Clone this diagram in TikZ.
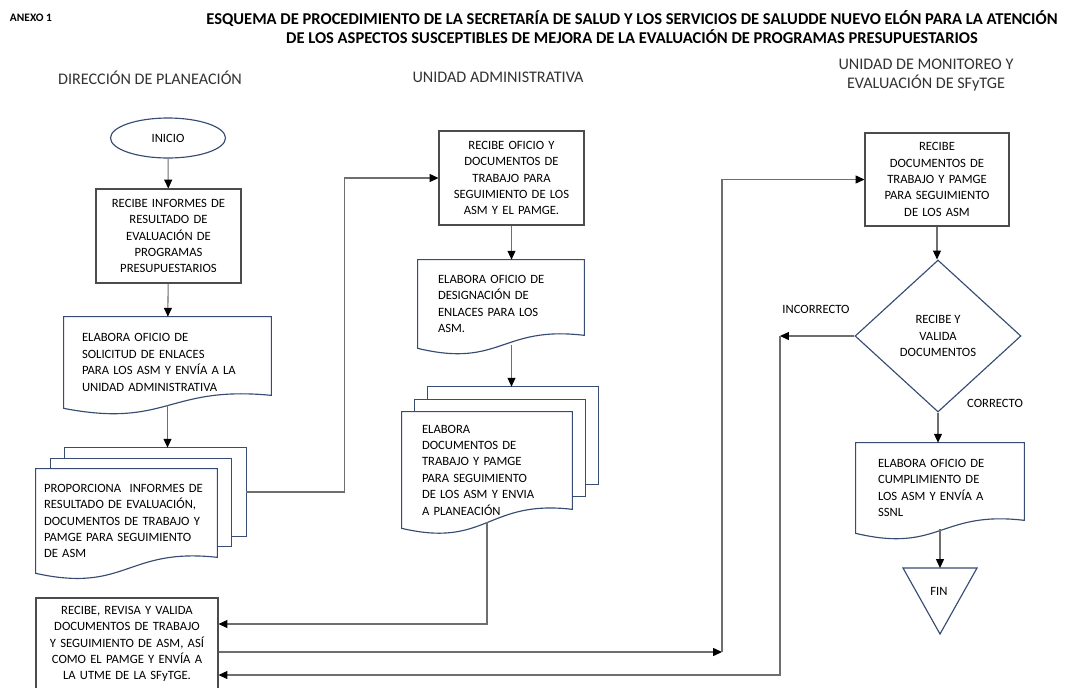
\documentclass[tikz,border=0pt]{standalone}
\usepackage{fontspec}
\setmainfont{Carlito}
\usetikzlibrary{shapes.geometric,arrows.meta,calc}

\pgfdeclarelayer{background}
\pgfsetlayers{background,main}

\definecolor{docblue}{RGB}{55,75,115}
\definecolor{linegray}{RGB}{110,110,110}

\tikzset{
  every node/.style={font=\fontsize{7.2}{9.35}\selectfont},
  procbox/.style={draw=black!70, line width=0.6pt, align=center, inner sep=2pt},
  docbox/.style={align=left, inner sep=2pt},
  docsheet/.style={draw=docblue, line width=0.65pt, fill=white},
  startbox/.style={ellipse, draw=docblue, line width=0.65pt},
  decision/.style={diamond, draw=docblue, line width=0.65pt, align=center, inner sep=0pt},
  header/.style={font=\fontsize{9.2}{11.3}\selectfont, text=black!80, align=center},
  conn/.style={draw=linegray, line width=0.6pt, -{Triangle[length=5pt,width=4.5pt,color=black]}},
  plainline/.style={draw=linegray, line width=0.6pt}
}

% outline of a document with a wavy bottom
\newcommand{\docpath}[2]{(#1.north west) -- (#1.north east) -- ($(#1.south east)+(0,-#2)$)
  .. controls ($(#1.south)+(0,-#2-10)$) and ($(#1.south)+(0,20)$) .. (#1.south west) -- cycle}

% single document
\newcommand{\docshape}[2]{%
  \begin{pgfonlayer}{background}
    \draw[docsheet] \docpath{#1}{#2};
  \end{pgfonlayer}}

% stack of three documents: name, dx, up, drop
\newcommand{\docstack}[4]{%
  \begin{pgfonlayer}{background}
    \draw[docsheet] ($(#1.north west)+(2*#2,-2*#3)$) rectangle ($(#1.south east)+(2*#2,-2*#3-#4)$);
    \draw[docsheet] ($(#1.north west)+(#2,-#3)$) rectangle ($(#1.south east)+(#2,-#3-#4)$);
    \draw[docsheet] \docpath{#1}{#4};
  \end{pgfonlayer}
  \coordinate (#1-top) at ($(#1.north)+(2*#2,-2*#3)$);
  \coordinate (#1-side) at ($(#1.east)+(2*#2,-2*#3-#4/2)$);}

\begin{document}
\begin{tikzpicture}[x=0.02cm, y=-0.02cm]

    \begin{pgfonlayer}{background}
        \fill[white] (0,0) rectangle (1065,687);
    \end{pgfonlayer}
    \useasboundingbox (0,0) rectangle (1065,687);

    % Titles
    \node[font=\fontsize{6.5}{8}\selectfont\bfseries] (anexo) at (31,18) {ANEXO 1};
    \node[font=\fontsize{9.4}{11.2}\selectfont\bfseries, align=center] (titulo) at (632,27)
        {ESQUEMA DE PROCEDIMIENTO DE LA SECRETARÍA DE SALUD Y LOS SERVICIOS DE SALUDDE NUEVO ELÓN PARA LA ATENCIÓN\\
         DE LOS ASPECTOS SUSCEPTIBLES DE MEJORA DE LA EVALUACIÓN DE PROGRAMAS PRESUPUESTARIOS};
    \node[header] (planeacion) at (150,78) {DIRECCIÓN DE PLANEACIÓN};
    \node[header] (unidad) at (498,77) {UNIDAD ADMINISTRATIVA};
    \node[header] (monitoreo) at (926,75) {UNIDAD DE MONITOREO Y\\ EVALUACIÓN DE SFyTGE};

    % Direccion de planeacion
    \node[startbox, minimum width=2.30cm, minimum height=0.80cm] (inicio) at (168,138) {INICIO};
    \node[procbox, minimum width=2.90cm, minimum height=1.88cm, text width=2.70cm] (recibe) at (168.5,236)
        {RECIBE INFORMES DE\\ RESULTADO DE\\ EVALUACIÓN DE\\ PROGRAMAS\\ PRESUPUESTARIOS};
    \node[docbox, minimum width=4.14cm, minimum height=1.82cm, text width=3.42cm] (solicitud) at (167.5,362.5)
        {ELABORA OFICIO DE\\ SOLICITUD DE ENLACES\\ PARA LOS ASM Y ENVÍA A LA\\ UNIDAD ADMINISTRATIVA};
    \docshape{solicitud}{13}
    \node[docbox, minimum width=3.62cm, minimum height=2.08cm, text width=3.30cm] (proporciona) at (126.5,521)
        {PROPORCIONA \ INFORMES DE\\ RESULTADO DE EVALUACIÓN,\\ DOCUMENTOS DE TRABAJO Y\\ PAMGE PARA SEGUIMIENTO\\ DE ASM};
    \docstack{proporciona}{14.5}{10.5}{16}
    \node[procbox, minimum width=3.64cm, minimum height=1.84cm, text width=3.50cm] (revisa) at (127,644)
        {RECIBE, REVISA Y VALIDA\\ DOCUMENTOS DE TRABAJO\\ Y SEGUIMIENTO DE ASM, ASÍ\\ COMO EL PAMGE Y ENVÍA A\\ LA UTME DE LA SFyTGE.};
    \coordinate (revisa-in1) at ($(revisa.east)+(0,-20)$);
    \coordinate (revisa-out) at ($(revisa.east)+(0,8)$);
    \coordinate (revisa-in2) at ($(revisa.east)+(0,31)$);

    % Unidad administrativa
    \node[procbox, minimum width=2.90cm, minimum height=1.88cm, text width=2.70cm] (oficio) at (511.5,178)
        {RECIBE OFICIO Y\\ DOCUMENTOS DE\\ TRABAJO PARA\\ SEGUIMIENTO DE LOS\\ ASM Y EL PAMGE.};
    \node[docbox, minimum width=3.32cm, minimum height=1.76cm, text width=2.52cm] (designacion) at (501,304)
        {ELABORA OFICIO DE\\ DESIGNACIÓN DE\\ ENLACES PARA LOS\\ ASM.};
    \docshape{designacion}{13}
    \node[docbox, minimum width=3.40cm, minimum height=2.32cm, text width=2.60cm] (elabora) at (487,470)
        {ELABORA\\ DOCUMENTOS DE\\ TRABAJO Y PAMGE\\ PARA SEGUIMIENTO\\ DE LOS ASM Y ENVIA\\ A PLANEACIÓN};
    \docstack{elabora}{13}{12.5}{19}

    % Unidad de monitoreo
    \node[procbox, minimum width=2.88cm, minimum height=1.86cm, text width=2.68cm] (recibedoc) at (937,179.5)
        {RECIBE\\ DOCUMENTOS DE\\ TRABAJO Y PAMGE\\ PARA SEGUIMIENTO\\ DE LOS ASM};
    \node[decision, minimum width=3.32cm, minimum height=3.04cm] (valida) at (938,336)
        {RECIBE Y\\ VALIDA\\ DOCUMENTOS};
    \node[docbox, minimum width=3.36cm, minimum height=1.80cm, text width=2.48cm] (cumplimiento) at (940,488)
        {ELABORA OFICIO DE\\ CUMPLIMIENTO DE\\ LOS ASM Y ENVÍA A\\ SSNL};
    \docshape{cumplimiento}{13}
    \coordinate (fintop) at (940,568);
    \draw[draw=docblue, line width=0.65pt] ($(fintop)+(-37,0)$) -- ($(fintop)+(37,0)$) -- ($(fintop)+(0,66)$) -- cycle;
    \node (fin) at (939,591) {FIN};
    \node (incorrecto) at (816,309) {INCORRECTO};
    \node (correcto) at (995,403) {CORRECTO};

    % Connectors
    \draw[conn] (inicio) -- (recibe);
    \draw[conn] (recibe) -- (solicitud);
    \draw[conn] ($(solicitud.south)+(0,-3)$) -- (solicitud.south |- proporciona-top);
    \draw[conn] (proporciona-side) -- ++(98,0) |- (oficio.west);
    \draw[conn] (oficio.south) -- (oficio.south |- designacion.north);
    \draw[conn] ($(oficio.south |- designacion.south)+(0,-3)$) -- (oficio.south |- elabora-top);
    \draw[conn] ($(elabora.south)+(0,-6)$) |- (revisa-in1);
    \coordinate (giro) at (722,652);
    \draw[conn] (revisa-out) -- (giro);
    \draw[conn] (giro) |- (recibedoc.west);
    \draw[conn] (recibedoc.south) -- (recibedoc.south |- valida.north);
    \coordinate (retorno) at (780,336);
    \draw[conn] (valida.west) -- (retorno);
    \draw[conn] (retorno) |- (revisa-in2);
    \draw[conn] (valida.south) -- (valida.south |- cumplimiento.north);
    \draw[conn] ($(cumplimiento.south)+(0,-4)$) -- (cumplimiento.south |- fintop);

\end{tikzpicture}
\end{document}
